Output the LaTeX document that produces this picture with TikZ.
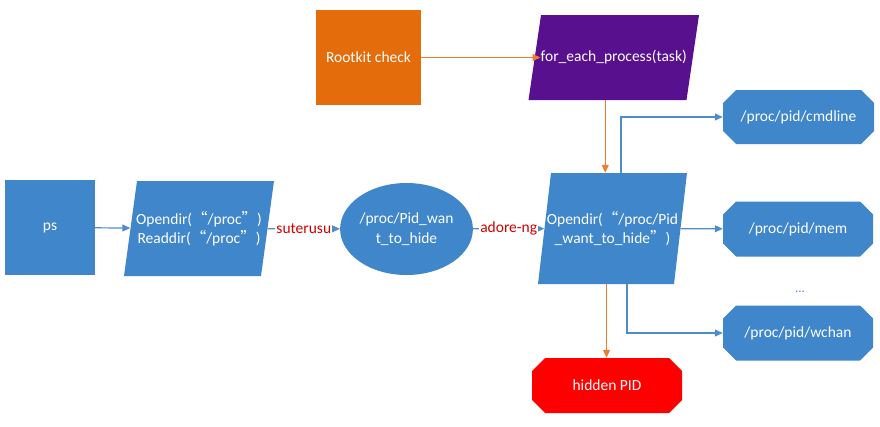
\documentclass[tikz,border=0pt]{standalone}
\usepackage{fontspec}
\setmainfont{Carlito}
\newfontfamily\cjk{Noto Sans CJK SC}
\usetikzlibrary{arrows.meta,shapes.geometric}
\definecolor{boxblue}{HTML}{3F86CA}
\definecolor{boxorange}{HTML}{E46C0A}
\definecolor{boxpurple}{HTML}{59108F}
\definecolor{boxred}{HTML}{FF0000}
\definecolor{lineorange}{HTML}{ED7D31}
\definecolor{lineblue}{HTML}{4F8CCB}
\definecolor{labelred}{HTML}{D00000}
\newcommand{\lquo}{{\cjk “}}
\newcommand{\rquo}{{\cjk ”}}
\begin{document}
\begin{tikzpicture}[x=1pt,y=-1pt,
  txt/.style={text=white,font=\fontsize{15.5}{19.5}\selectfont,align=center,inner sep=0pt},
  rectbox/.style={txt,fill=#1,minimum width=90pt,minimum height=95pt},
  holder/.style={txt,draw=none},
  octbox/.style={txt,minimum width=150pt,minimum height=55pt,
    path picture={\fill[#1]
      ([xshift=13pt]path picture bounding box.north west) --
      ([xshift=-13pt]path picture bounding box.north east) --
      ([yshift=-13pt]path picture bounding box.north east) --
      ([yshift=13pt]path picture bounding box.south east) --
      ([xshift=-13pt]path picture bounding box.south east) --
      ([xshift=13pt]path picture bounding box.south west) --
      ([yshift=13pt]path picture bounding box.south west) --
      ([yshift=-13pt]path picture bounding box.north west) -- cycle;}},
  bluearrow/.style={draw=lineblue,line width=1.2pt,-{Triangle[length=8pt,width=7pt]}},
  orangearrow/.style={draw=lineorange,line width=1.2pt,-{Triangle[length=8pt,width=7pt]}},
  edgelabel/.style={text=labelred,font=\fontsize{15.5}{18}\selectfont,fill=white,inner sep=1pt}
]
\useasboundingbox (0,0) rectangle (880,426);

% parallelogram shapes
\fill[boxblue] (137,181) -- (274,181) -- (261,276) -- (124,276) -- cycle;
\fill[boxblue] (551,173) -- (687,173) -- (674,284) -- (538,284) -- cycle;
\fill[boxpurple] (541,15) -- (699,15) -- (686.5,100) -- (528.5,100) -- cycle;

% nodes
\node[rectbox=boxblue] (ps) at (50,227.5) {ps};
\node[holder,minimum width=137pt,minimum height=95pt] (p1) at (199,228.5)
  {Opendir(\lquo/proc\rquo)\\Readdir(\lquo/proc\rquo)};
\node[txt,ellipse,fill=boxblue,minimum width=127pt,minimum height=92pt] (ell) at (406.5,229)
  {/proc/Pid\_wan\\t\_to\_hide};
\node[holder,minimum width=136pt,minimum height=111pt] (p2) at (612.5,228.5)
  {Opendir(\lquo/proc/Pid\\\_want\_to\_hide\rquo)};
\node[rectbox=boxorange,minimum width=105pt] (rk) at (368.5,57.5) {Rootkit check};
\node[holder,minimum width=145pt,minimum height=85pt] (fe) at (613.75,57.5) {for\_each\_process(task)};
\node[octbox=boxblue,minimum width=151pt,minimum height=54pt] (cmd) at (798.5,117) {/proc/pid/cmdline};
\node[octbox=boxblue] (mem) at (798,229) {/proc/pid/mem};
\node[octbox=boxblue] (wch) at (798,333) {/proc/pid/wchan};
\node[octbox=boxred] (hid) at (607,385.5) {hidden PID};
\node[text=lineblue,font=\fontsize{13}{15}\selectfont,inner sep=0pt] (dots) at (800,292) {...};

% connectors
\draw[bluearrow] (ps) -- (p1);
\draw[bluearrow] (p1) -- node[edgelabel] {suterusu} (ell);
\draw[bluearrow] (ell) -- node[edgelabel] {adore-ng} (p2);
\draw[orangearrow] (rk) -- (fe);
\draw[orangearrow] ([xshift=-8.5pt]fe.south) -- ([xshift=-8.5pt]fe.south |- p2.north);
\draw[bluearrow] ([xshift=8.5pt]p2.north) |- (cmd.west);
\draw[bluearrow] (p2) -- (mem);
\draw[bluearrow] ([xshift=14.5pt]p2.south) |- (wch.west);
\draw[orangearrow] ([xshift=-6pt]p2.south) -- ([xshift=-6pt]p2.south |- hid.north);
\end{tikzpicture}
\end{document}
